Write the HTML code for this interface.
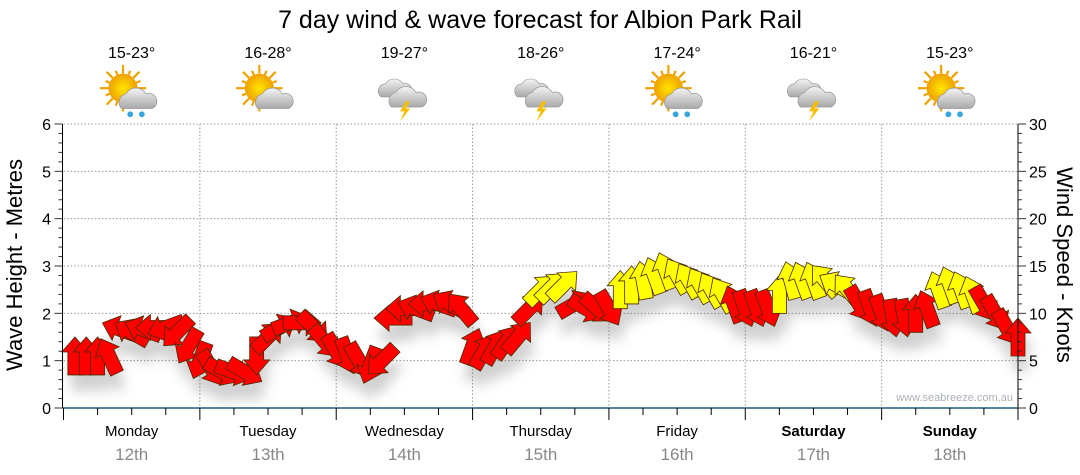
<!DOCTYPE html>
<html><head><meta charset="utf-8"><style>
html,body{margin:0;padding:0;background:#fff;}
svg{display:block;font-family:"Liberation Sans",sans-serif;}
</style></head><body>
<svg id="chart" width="1080" height="475" viewBox="0 0 1080 475" xmlns="http://www.w3.org/2000/svg">
<defs>
<filter id="sh" x="-50%" y="-50%" width="200%" height="250%"><feGaussianBlur stdDeviation="6"/></filter>
<radialGradient id="sun" cx="50%" cy="50%" r="50%"><stop offset="0" stop-color="#ffe600"/><stop offset="1" stop-color="#f0a000"/></radialGradient>
<linearGradient id="cloud" x1="0" y1="0" x2="0" y2="1"><stop offset="0" stop-color="#f4f4f4"/><stop offset="1" stop-color="#a8a8a8"/></linearGradient>
</defs>
<text x="540" y="28" text-anchor="middle" font-size="25" fill="#000">7 day wind &amp; wave forecast for Albion Park Rail</text>
<g id="grid"></g>
<g id="shadows" filter="url(#sh)" opacity="0.3"></g>
<g id="arrows"></g>
<g id="axes"></g>
<g id="days"></g>
<g id="weather"></g>
<text transform="translate(22,265) rotate(-90)" text-anchor="middle" font-size="22">Wave Height - Metres</text>
<text transform="translate(1057,265) rotate(90)" text-anchor="middle" font-size="22">Wind Speed - Knots</text>
<text x="1013" y="401" text-anchor="end" font-size="11" fill="#aab0b8">www.seabreeze.com.au</text>
</svg>
<script>
const dayNames=["Monday","Tuesday","Wednesday","Thursday","Friday","Saturday","Sunday"];
const dayDates=["12th","13th","14th","15th","16th","17th","18th"];
const temps=["15-23°","16-28°","19-27°","18-26°","17-24°","16-21°","15-23°"];
const icons=["sunrain","sun","storm","storm","sunrain","storm","sunrain"];
const waveTicks=[0,1,2,3,4,5,6];
const windTicks=[0,5,10,15,20,25,30];
const windHours=[2,4,6,8,10,12,14,16,18,20,22,24,26,28,30,32,34,36,38,40,42,44,46,48,50,52,54,56,58,60,62,64,66,68,70,72,74,76,78,80,82,84,86,88,90,92,94,96,98,100,102,104,106,108,110,112,114,116,118,120,122,124,126,128,130,132,134,136,138,140,142,144,146,148,150,152,154,156,158,160,162,164,166,168];
const windSpeed=[5.5,5.5,5.5,5.5,8.3,8.0,8.3,8.5,8.5,8.0,6.5,5.0,4.2,3.8,3.8,3.8,5.5,7.5,8.5,9.0,9.0,8.5,7.0,6.0,5.5,5.0,4.5,5.0,9.5,10.5,10.5,11.0,11.0,11.0,10.5,6.5,6.0,6.5,7.0,7.5,10.5,12.5,12.8,13.0,11.0,10.5,10.5,10.5,12.5,13.0,13.5,14.0,14.5,14.0,13.5,13.0,12.5,12.0,11.0,10.5,10.5,10.5,12.0,13.5,13.5,13.5,13.5,13.0,12.5,11.0,10.5,10.0,9.5,9.5,10.0,10.5,12.5,13.0,12.5,12.0,11.0,10.0,8.5,7.5];
const windDir=[0,0,0,335,290,300,290,270,250,225,210,200,150,120,110,120,180,45,60,70,90,135,140,150,160,150,200,225,270,270,290,270,290,300,320,20,30,30,35,40,45,45,45,45,60,120,130,150,0,0,350,340,340,330,330,330,330,330,340,160,160,160,0,345,340,340,320,300,320,150,160,160,170,170,0,340,340,340,340,340,150,150,150,0];
const NS="http://www.w3.org/2000/svg";
const X0=63.5,X1=1018,Y0=408,Y1=124;
const xT=h=>X0+(X1-X0)*h/168;
const yW=m=>Y0-(Y0-Y1)*m/6;
const yK=k=>Y0-(Y0-Y1)*k/30;
function mk(tag,attrs,parent){const e=document.createElementNS(NS,tag);for(const k in attrs)e.setAttribute(k,attrs[k]);parent.appendChild(e);return e;}
const grid=document.getElementById('grid'),axes=document.getElementById('axes');
waveTicks.forEach(m=>{if(m>0){const l=mk('line',{x1:X0,x2:X1,y1:yW(m),y2:yW(m),stroke:'#999','stroke-dasharray':'1.5,2','stroke-width':1},grid);

}
const t=mk('text',{x:51,y:yW(m)+6,'text-anchor':'end','font-size':16},axes);t.textContent=m;

});
windTicks.forEach(k=>{const t=mk('text',{x:1029,y:yK(k)+6,'font-size':16},axes);t.textContent=k;

});
for(let d=1;d<7;d++){const l=mk('line',{x1:xT(d*24),x2:xT(d*24),y1:Y1,y2:Y0,stroke:'#999','stroke-dasharray':'1.5,2'},grid);

}
mk('line',{x1:X0-1,x2:X0-1,y1:Y1,y2:Y0,stroke:'#000'},axes);
mk('line',{x1:X1,x2:X1,y1:Y1,y2:Y0,stroke:'#000'},axes);
mk('line',{x1:X0-1,x2:X1,y1:Y0,y2:Y0,stroke:'#1f5a7a','stroke-width':1.5},axes);
for(let i=0;i<=30;i++){const y=yW(i/5);const len=i%5==0?8:4;mk('line',{x1:X0-1-len,x2:X0-1,y1:y,y2:y,stroke:'#333'},axes);}
for(let i=0;i<=30;i++){const y=yK(i);const len=i%5==0?8:4;mk('line',{x1:X1,x2:X1+len,y1:y,y2:y,stroke:'#333'},axes);}
for(let i=0;i<=28;i++){const x=xT(i*6);mk('line',{x1:x,x2:x,y1:Y0,y2:Y0+(i%4==0?12:7),stroke:'#000'},axes);}
const days=document.getElementById('days'),wg=document.getElementById('weather');
dayNames.forEach((n,i)=>{const cx=xT(i*24+12);const bold=i>=5;
const a=mk('text',{x:cx,y:436,'text-anchor':'middle','font-size':15,'font-weight':bold?'bold':'normal'},days);a.textContent=n;


const b=mk('text',{x:cx,y:460,'text-anchor':'middle','font-size':17,fill:'#888'},days);b.textContent=dayDates[i];


const t=mk('text',{x:cx,y:58,'text-anchor':'middle','font-size':16},wg);t.textContent=temps[i];


const g=mk('g',{transform:`translate(${cx},94) scale(1.45)`},wg);


if(icons[i]!=='storm'){for(let r=0;r<16;r++){const an=r*Math.PI/8;mk('line',{x1:-6+Math.cos(an)*10,y1:-4+Math.sin(an)*10,x2:-6+Math.cos(an)*(r%2?13:16),y2:-4+Math.sin(an)*(r%2?13:16),stroke:'#f0a000','stroke-width':1.5},g);}
mk('circle',{cx:-6,cy:-4,r:10,fill:'url(#sun)'},g);
mk('path',{d:'M-7,10 a6,6 0 0 1 3,-10 a8,8 0 0 1 14,0 a5,5 0 0 1 4,10 z',fill:'url(#cloud)',stroke:'#999','stroke-width':0.5},g);}
else{mk('path',{d:'M-16,2 a5,5 0 0 1 3,-9 a7,7 0 0 1 12,0 a4,4 0 0 1 3,9 z',fill:'url(#cloud)',stroke:'#999','stroke-width':0.5},g);
mk('path',{d:'M-9,9 a6,6 0 0 1 3,-10 a8,8 0 0 1 14,0 a5,5 0 0 1 4,10 z',fill:'url(#cloud)',stroke:'#999','stroke-width':0.5},g);
mk('path',{d:'M1,5 l-4,7 h3 l-3,7 l7,-9 h-3 l3,-5 z',fill:'#f5c000'},g);}
if(icons[i]==='sunrain'){mk('circle',{cx:-1,cy:14,r:2,fill:'#39a6e0'},g);mk('circle',{cx:7,cy:14,r:2,fill:'#39a6e0'},g);}
});
const ar=document.getElementById('arrows'),sh=document.getElementById('shadows');
const shape='M0,-19 L13,-4 L7,-4 L7,19 L-7,19 L-7,-4 L-13,-4 Z';
windHours.forEach((h,i)=>{const x=xT(h),y=yK(windSpeed[i]);
const s=mk('path',{d:shape,transform:`translate(${x+3},${y+16}) rotate(${windDir[i]})`,fill:'#666'},sh);


const p=mk('path',{d:shape,transform:`translate(${x},${y}) rotate(${windDir[i]})`,fill:windSpeed[i]>=11.8?'#ffff00':'#ff0000',stroke:'#4a2a00','stroke-width':0.8},ar);

});
</script>
</body></html>
